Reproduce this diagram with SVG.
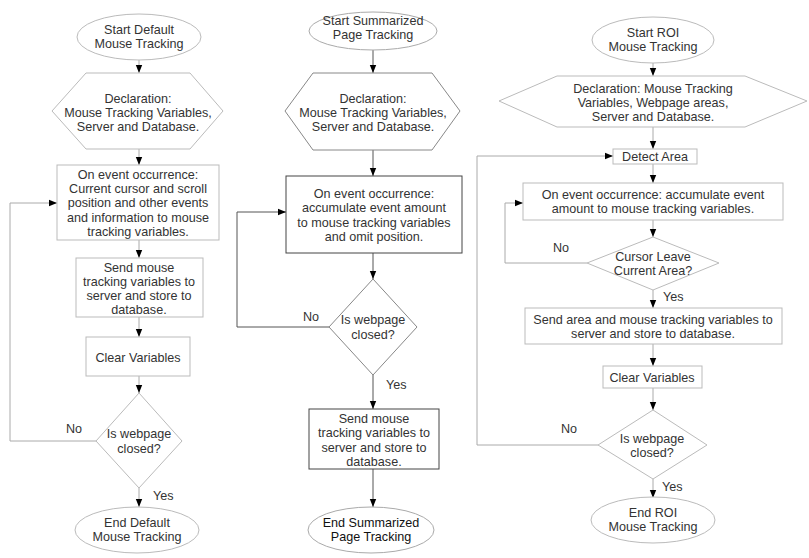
<svg xmlns="http://www.w3.org/2000/svg" width="809" height="558" viewBox="0 0 809 558">
<defs>
<marker id="ah" markerUnits="userSpaceOnUse" markerWidth="8" markerHeight="8" viewBox="0 0 8 8" refX="8" refY="4" orient="auto">
<path d="M0,0.8 L8,4 L0,7.2 Z" fill="#000"/>
</marker>
<style>
text{font-family:"Liberation Sans",Arial,sans-serif;font-size:12.6px;fill:#333;text-anchor:middle}
.lt{fill:#fff;stroke:#bbb;stroke-width:1}
.dk{fill:#fff;stroke:#444;stroke-width:1}
.md{fill:#fff;stroke:#888;stroke-width:1}
.cl{fill:none;stroke:#aaa;stroke-width:1;marker-end:url(#ah)}
.cd{fill:none;stroke:#555;stroke-width:1;marker-end:url(#ah)}
.lb{text-anchor:start}
</style>
</defs>
<rect width="809" height="558" fill="#fff"/>
<g id="connectors">
<path class="cl" d="M139,60 V73"/>
<path class="cl" d="M139,149 V165"/>
<path class="cl" d="M139,240 V258"/>
<path class="cl" d="M139,317 V337"/>
<path class="cl" d="M139,376 V393"/>
<path class="cl" d="M139,488 V507"/>
<path class="cl" d="M96,441 H10 V203 H57"/>
<path class="cd" d="M373,50 V73"/>
<path class="cd" d="M373,150 V176"/>
<path class="cd" d="M373,253 V279"/>
<path class="cd" d="M373,375 V409"/>
<path class="cd" d="M373,469 V507"/>
<path class="cd" d="M329,327 H237 V212 H286"/>
<path class="cl" d="M653,62 V76"/>
<path class="cl" d="M653,127 V149"/>
<path class="cl" d="M653,164 V183"/>
<path class="cl" d="M653,220 V237"/>
<path class="cl" d="M653,290 V308"/>
<path class="cl" d="M653,344 V366"/>
<path class="cl" d="M653,388 V410"/>
<path class="cl" d="M653,479 V498"/>
<path class="cl" d="M587,263 H505 V203 H523"/>
<path class="cl" d="M598,445 H477 V156 H613"/>
</g>
<g id="labels">
<text class="lb" x="66" y="433">No</text>
<text class="lb" x="153" y="500">Yes</text>
<text class="lb" x="303" y="321">No</text>
<text class="lb" x="386" y="389">Yes</text>
<text class="lb" x="553" y="252">No</text>
<text class="lb" x="663" y="301">Yes</text>
<text class="lb" x="561" y="433">No</text>
<text class="lb" x="662" y="491">Yes</text>
</g>
<g id="l_start"><ellipse class="lt" cx="139" cy="37" rx="62" ry="23"/><text x="139" y="34">Start Default</text><text x="139" y="48">Mouse Tracking</text></g>
<g id="l_decl"><polygon class="lt" points="52,111 86,73 190,73 223,111 190,149 86,149"/><text x="138" y="102.5">Declaration:</text><text x="138" y="116.5">Mouse Tracking Variables,</text><text x="138" y="130.5">Server and Database.</text></g>
<g id="l_event"><rect class="lt" x="57" y="165" width="162" height="75"/><text x="138" y="178.5">On event occurrence:</text><text x="138" y="192.5">Current cursor and scroll</text><text x="138" y="207">position and other events</text><text x="138" y="221.5">and information to mouse</text><text x="138" y="235.5">tracking variables.</text></g>
<g id="l_send"><rect class="lt" x="76" y="258" width="127" height="59"/><text x="139" y="271.5">Send mouse</text><text x="139" y="285.5">tracking variables to</text><text x="139" y="299.5">server and store to</text><text x="139" y="313.5">database.</text></g>
<g id="l_clear"><rect class="lt" x="86" y="337" width="104" height="39"/><text x="138" y="361.5">Clear Variables</text></g>
<g id="l_closed"><polygon class="lt" points="139,393 182,441 139,488 96,441"/><text x="139" y="437.5">Is webpage</text><text x="139" y="452.5">closed?</text></g>
<g id="l_end"><ellipse class="lt" cx="137" cy="530" rx="62" ry="23"/><text x="137" y="526.5">End Default</text><text x="137" y="540.5">Mouse Tracking</text></g>
<g id="m_start"><ellipse class="md" cx="373" cy="31" rx="64" ry="19" style="stroke:#aaa"/><text x="373" y="25">Start Summarized</text><text x="373" y="39">Page Tracking</text></g>
<g id="m_decl"><polygon class="md" points="285,111 313,73 432,73 460,111 432,150 313,150"/><text x="373" y="102.5">Declaration:</text><text x="373" y="116.5">Mouse Tracking Variables,</text><text x="373" y="130.5">Server and Database.</text></g>
<g id="m_event"><rect class="dk" x="286" y="176" width="176" height="77"/><text x="374" y="197.5">On event occurrence:</text><text x="374" y="212">accumulate event amount</text><text x="374" y="226.5">to mouse tracking variables</text><text x="374" y="240.5">and omit position.</text></g>
<g id="m_closed"><polygon class="md" points="373,279 417,327 373,375 329,327"/><text x="373" y="323.5">Is webpage</text><text x="373" y="338.5">closed?</text></g>
<g id="m_send"><rect class="dk" x="309" y="409" width="130" height="60"/><text x="374" y="422.5">Send mouse</text><text x="374" y="436.5">tracking variables to</text><text x="374" y="451.5">server and store to</text><text x="374" y="465.5">database.</text></g>
<g id="m_end"><ellipse class="md" cx="371" cy="530" rx="63" ry="23" style="stroke:#aaa"/><text x="371" y="526.5" style="fill:#111">End Summarized</text><text x="371" y="540.5" style="fill:#111">Page Tracking</text></g>
<g id="r_start"><ellipse class="lt" cx="653" cy="40" rx="61" ry="23"/><text x="653" y="37">Start ROI</text><text x="653" y="51">Mouse Tracking</text></g>
<g id="r_decl"><polygon class="lt" points="499,101 557,76 745,76 807,101 745,127 557,127"/><text x="653" y="92.5">Declaration: Mouse Tracking</text><text x="653" y="106.5">Variables, Webpage areas,</text><text x="653" y="120.5">Server and Database.</text></g>
<g id="r_detect"><rect class="lt" x="613" y="149" width="84" height="15"/><text x="655" y="160.5">Detect Area</text></g>
<g id="r_event"><rect class="lt" x="523" y="183" width="260" height="37"/><text x="653" y="198.5">On event occurrence: accumulate event</text><text x="653" y="212.5">amount to mouse tracking variables.</text></g>
<g id="r_leave"><polygon class="lt" points="653,237 719,263 653,290 587,263"/><text x="653" y="260.5">Cursor Leave</text><text x="653" y="274.5">Current Area?</text></g>
<g id="r_send"><rect class="lt" x="525" y="308" width="257" height="36"/><text x="653" y="323.5">Send area and mouse tracking variables to</text><text x="653" y="338">server and store to database.</text></g>
<g id="r_clear"><rect class="lt" x="603" y="366" width="99" height="22"/><text x="652" y="381.5">Clear Variables</text></g>
<g id="r_closed"><polygon class="lt" points="653,410 707,445 653,479 598,445"/><text x="652" y="442.5">Is webpage</text><text x="652" y="456.5">closed?</text></g>
<g id="r_end"><ellipse class="lt" cx="653" cy="520" rx="62" ry="23"/><text x="653" y="517">End ROI</text><text x="653" y="531">Mouse Tracking</text></g>
</svg>
